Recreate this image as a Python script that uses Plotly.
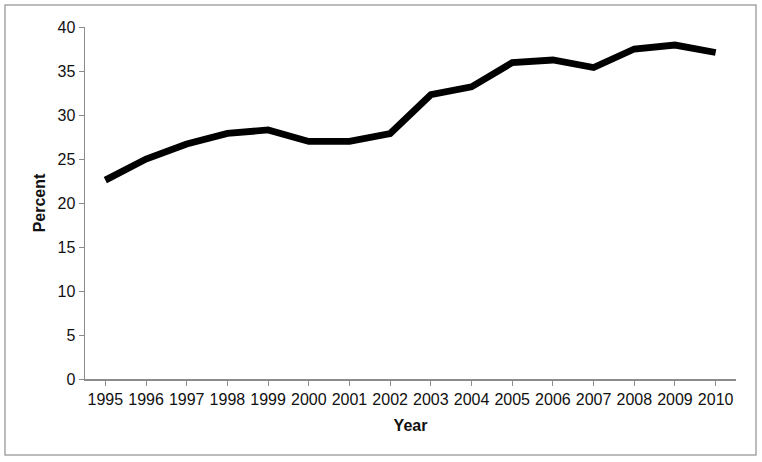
import plotly.graph_objects as go

years = ["1995", "1996", "1997", "1998", "1999", "2000", "2001", "2002",
         "2003", "2004", "2005", "2006", "2007", "2008", "2009", "2010"]
percent = [22.6, 25.0, 26.7, 27.9, 28.3, 27.0, 27.0, 27.9,
           32.3, 33.2, 35.95, 36.25, 35.4, 37.5, 37.95, 37.1]
y_ticks = [0, 5, 10, 15, 20, 25, 30, 35, 40]

fig = go.Figure()
fig.add_trace(go.Scatter(
    x=years, y=percent, mode="lines",
    line=dict(color="black", width=6.8),
    hoverinfo="skip", showlegend=False,
))

axis_color = "#8c8c8c"
font_fam = "Liberation Sans, Arial, sans-serif"

fig.update_layout(
    width=762, height=462,
    margin=dict(l=85, r=26, t=27, b=83),
    paper_bgcolor="white", plot_bgcolor="white",
    font=dict(family=font_fam, size=16, color="#111111"),
    xaxis=dict(
        type="category", range=[-0.5, 15.5],
        showline=True, linecolor=axis_color, linewidth=1.5,
        ticks="outside", ticklen=5, tickcolor=axis_color, tickwidth=1,
        showgrid=False, zeroline=False,
        tickfont=dict(size=16),
        title=dict(text="<b>Year</b>", font=dict(size=16), standoff=13),
    ),
    yaxis=dict(
        range=[0, 40], tickvals=y_ticks,
        showline=True, linecolor=axis_color, linewidth=1.5,
        ticks="outside", ticklen=5, tickcolor=axis_color, tickwidth=1,
        showgrid=False, zeroline=False,
        tickfont=dict(size=16),
        title=dict(text="<b>Percent</b>", font=dict(size=16), standoff=8),
    ),
    shapes=[dict(
        type="rect", xref="paper", yref="paper",
        x0=(5 - 85) / 651, x1=(756 - 85) / 651,
        y0=(379 - 455) / 352, y1=(379 - 5) / 352,
        line=dict(color="#a6a6a6", width=1.5), fillcolor="rgba(0,0,0,0)",
        layer="below",
    )],
)

fig.write_html(
    "out.html",
    config={"displayModeBar": False, "staticPlot": True},
    post_script="document.body.style.margin='0';document.body.style.overflow='hidden';",
)
